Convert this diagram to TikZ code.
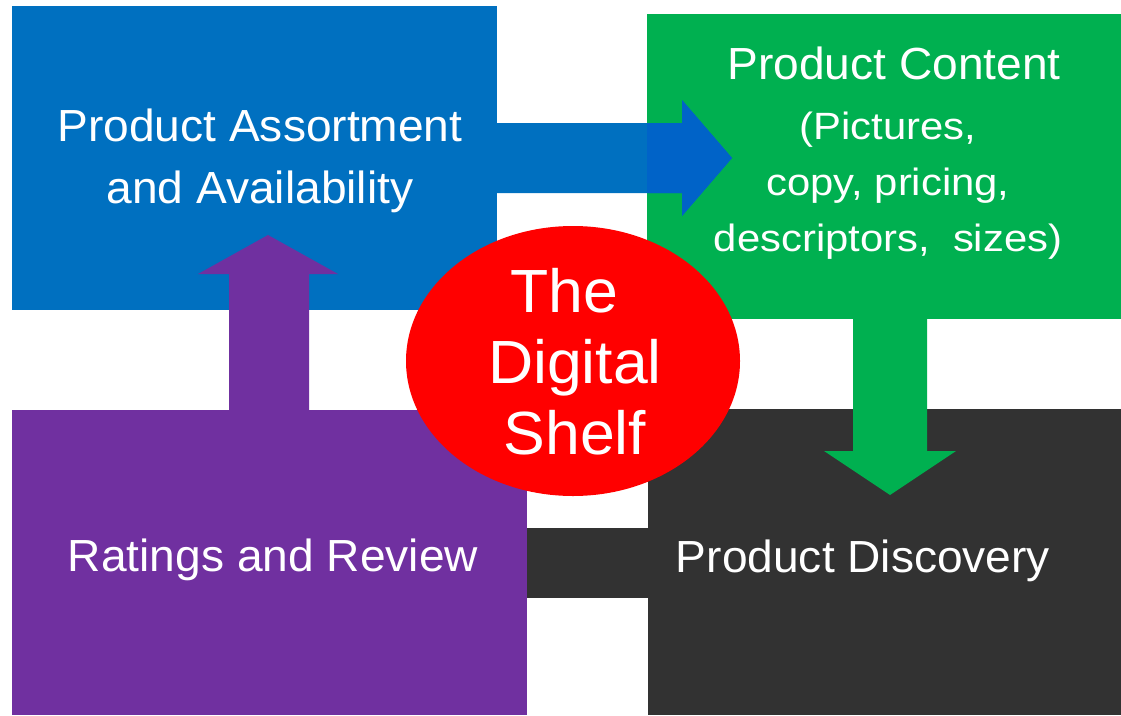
\documentclass[tikz,border=0pt]{standalone}
\usepackage{fontspec}
\setmainfont{Liberation Sans}
\newfontfamily\lblfont[FakeStretch=1.025]{Liberation Sans}
\newfontfamily\lblwide[FakeStretch=1.1]{Liberation Sans}
\usetikzlibrary{shapes.geometric}
\definecolor{assortblue}{HTML}{0070C0}
\definecolor{arrowblue}{HTML}{0063C8}
\definecolor{contentgreen}{HTML}{00B050}
\definecolor{reviewpurple}{HTML}{7030A0}
\definecolor{discoverygray}{HTML}{323232}
\definecolor{shelfred}{HTML}{FF0000}
\begin{document}
\begin{tikzpicture}[x=1pt,y=-1pt,
  block/.style={rectangle, draw=none, inner sep=0pt, anchor=north west},
  lbl/.style={text=white, font=\lblfont\fontsize{45}{62}\selectfont, align=center, inner sep=0pt},
  lblsmall/.style={text=white, font=\lblwide\fontsize{38}{56}\selectfont, align=center, inner sep=0pt},
  assortarrow/.style={insert path={(497,123) -- (682,123) -- (682,100) -- (732,158) -- (682,216) -- (682,193) -- (497,193) -- cycle}},
  contentarrow/.style={insert path={(853,319) -- (853,451) -- (824,451) -- (890,495) -- (956,451) -- (927,451) -- (927,319) -- cycle}},
  reviewarrow/.style={insert path={(229,410) -- (229,274) -- (198,274) -- (268,235) -- (338,274) -- (309,274) -- (309,410) -- cycle}}
]
\useasboundingbox (0,0) rectangle (1121,715);
\fill[white] (0,0) rectangle (1121,715);

% the four blocks
\node[block, fill=assortblue, minimum width=485pt, minimum height=304pt] (assortbox) at (12,6) {};
\node[block, fill=contentgreen, minimum width=474pt, minimum height=305pt] (contentbox) at (647,14) {};
\node[block, fill=reviewpurple, minimum width=515pt, minimum height=305pt] (reviewbox) at (12,410) {};
\node[block, fill=discoverygray, minimum width=473pt, minimum height=306pt] (discoverybox) at (648,409) {};
\node[block, fill=discoverygray, minimum width=121pt, minimum height=70pt] (discoverylink) at (527,528) {};

% block arrows
\fill[assortblue, assortarrow];
\begin{scope}
  \clip (647,14) rectangle (1121,319);
  \fill[arrowblue, assortarrow];
\end{scope}
\fill[contentgreen, contentarrow];
\fill[reviewpurple, reviewarrow];

% centre ellipse
\node[ellipse, fill=shelfred, minimum width=334pt, minimum height=270pt, inner sep=0pt] (shelf) at (573,361) {};
\node[text=white, font=\lblfont\fontsize{61}{71}\selectfont, align=center, inner sep=0pt] (shelftext) at (575,362) {The\hspace*{22pt}\\Digital\\Shelf};

% labels
\node[lbl] (assorttext) at (260,161) {Product Assortment\\and Availability};
\node[lbl, anchor=base] (contenttitle) at (894,79) {Product Content};
\node[lblsmall] (contentdetail) at (888,186) {(Pictures,\\copy, pricing,\\descriptors,\ \ sizes)};
\node[lbl, anchor=base] (reviewtext) at (273,571) {Ratings and Review};
\node[lbl, anchor=base] (discoverytext) at (863,572) {Product Discovery};
\end{tikzpicture}
\end{document}
